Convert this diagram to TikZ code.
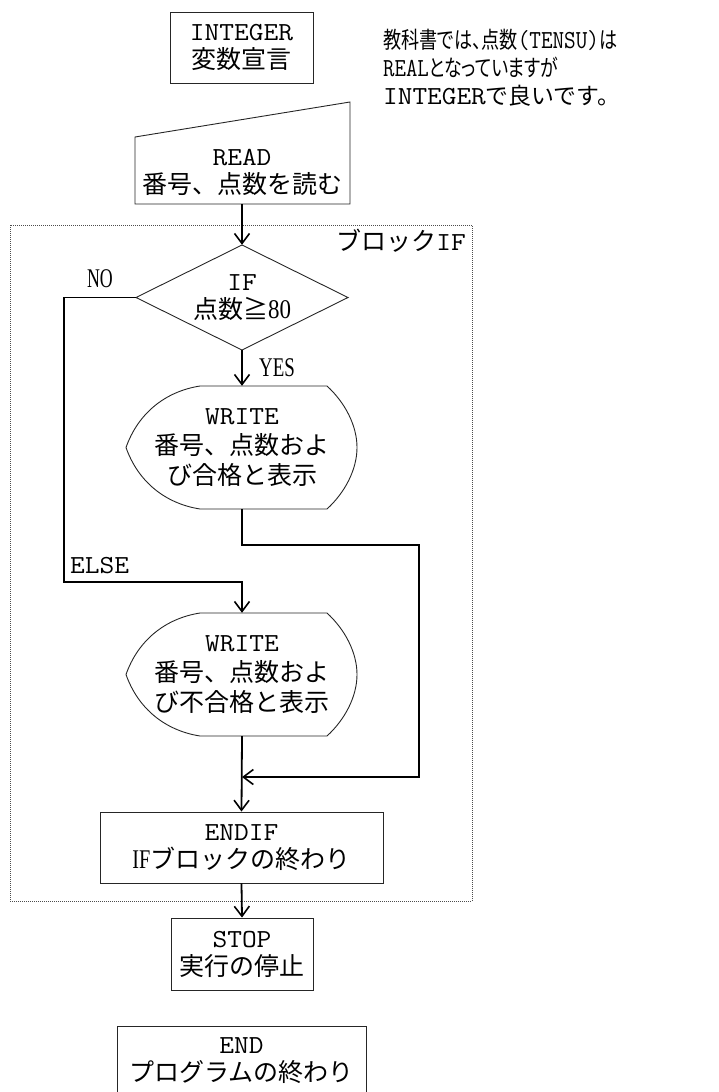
\documentclass[tikz,border=0pt]{standalone}
\usepackage{fontspec}
\setmainfont{Liberation Serif}
\setmonofont{Latin Modern Mono}[FakeStretch=1.1]
\newfontfamily\cjk{Noto Sans CJK JP}
\newfontfamily\cjkp[RawFeature=+palt]{Noto Sans CJK JP}
\newcommand\mono{\ttfamily\fontsize{26pt}{\baselineskip}\selectfont}
\usetikzlibrary{arrows.meta}
\newcommand\fsz{\fontsize{25pt}{28pt}\selectfont}
\newcommand\fszw{\fontsize{25pt}{30pt}\selectfont}
\tikzset{
  shp/.style={draw=black!85, line width=0.9pt},
  box/.style={shp, rectangle, inner sep=0pt, align=center, font=\fsz},
  txt/.style={inner sep=0pt, align=center, font=\fsz},
  conn/.style={line width=1.8pt, -{Straight Barb[length=10pt,width=15pt,line width=1.6pt]}},
  disp/.pic={\draw[shp] (-42,-61.5) -- (85,-61.5) .. controls (103,-45) and (115,-22) .. (115,0) .. controls (115,22) and (103,45) .. (85,61.5) -- (-42,61.5) .. controls (-77,56) and (-104,34) .. (-116,0) .. controls (-104,-34) and (-77,-56) .. (-42,-61.5) -- cycle;}
}
\begin{document}
\begin{tikzpicture}[x=1pt,y=-1pt]
\useasboundingbox (0,0) rectangle (718,1092);
% block frame
\draw[densely dotted, black!70, line width=1pt] (10,225) rectangle (472,901);
\node[txt, anchor=north east] (blk) at (466,229) {{\cjk ブロック}{\mono IF}};
% declaration
\node[box, minimum width=143pt, minimum height=71pt] (int) at (241.5,47.5) {{\mono INTEGER}\\{\cjk 変数宣言}};
% note
\node[anchor=north west, inner sep=0pt, align=left, font=\fontsize{23pt}{28pt}\selectfont] (note) at (383,29)
  {\resizebox{234pt}{\height}{{\cjkp 教科書では、点数}{\mono (TENSU)}{\cjkp は}}\\
   \resizebox{175pt}{\height}{{\mono REAL}{\cjkp となっていますが}}\\
   \resizebox{237pt}{\height}{{\mono INTEGER}{\cjk で良いです。}}};
% READ (manual input)
\draw[shp] (135,137) -- (350,102) -- (350,204) -- (135,204) -- cycle;
\node[txt, minimum height=64pt] (read) at (242,172) {{\mono READ}\\{\cjk 番号、点数を読む}};
% decision
\draw[shp] (242,245) -- (348,297.5) -- (242,350) -- (136,297.5) -- cycle;
\node[txt, minimum width=212pt, minimum height=105pt] (dia) at (242,297.5) {{\mono IF}\\{\cjk 点数≧}{\fontsize{27pt}{\baselineskip}\selectfont\scalebox{0.85}[1]{80}}};
\node[txt] (no) at (100,279) {{\fontsize{27pt}{\baselineskip}\selectfont\scalebox{0.66}[1]{NO}}};
\node[txt] (yes) at (277,368) {{\fontsize{27pt}{\baselineskip}\selectfont\scalebox{0.7}[1]{YES}}};
% WRITE 1
\pic at (242,447.5) {disp};
\node[txt, font=\fszw, minimum width=231pt, minimum height=123pt] (w1) at (242,447.5) {{\mono WRITE}\\{\cjk 番号、点数およ}\\{\cjk び合格と表示}};
% WRITE 2
\pic at (242,674.5) {disp};
\node[txt, font=\fszw, minimum width=231pt, minimum height=123pt] (w2) at (242,674.5) {{\mono WRITE}\\{\cjk 番号、点数およ}\\{\cjk び不合格と表示}};
\node[txt, anchor=west] (else) at (70,566) {\mono ELSE};
% ENDIF
\node[box, minimum width=283pt, minimum height=71pt] (endif) at (241.5,847.5) {{\mono ENDIF}\\{{\fontsize{27pt}{\baselineskip}\selectfont\scalebox{0.75}[1]{IF}}\cjk ブロックの終わり}};
% STOP
\node[box, minimum width=142pt, minimum height=72pt] (stop) at (242,954) {{\mono STOP}\\{\cjk 実行の停止}};
% END
\node[box, minimum width=249pt, minimum height=70pt] (end) at (241.5,1061) {{\mono END}\\{\cjk プログラムの終わり}};
% connectors
\coordinate (elsel) at (64,582);
\coordinate (r1) at (419,545);
\coordinate (merge) at (242,777);
\draw[conn] (read.south) -- (dia.north);
\draw[conn] (dia.south) -- (w1.north);
\draw[conn] (dia.west) -| (elsel) -| (w2.north);
\draw[conn] (w1.south) |- (r1) |- (merge);
\draw[conn] (w2.south) -- (endif.north);
\draw[conn] (endif.south) -- (stop.north);
\end{tikzpicture}
\end{document}
